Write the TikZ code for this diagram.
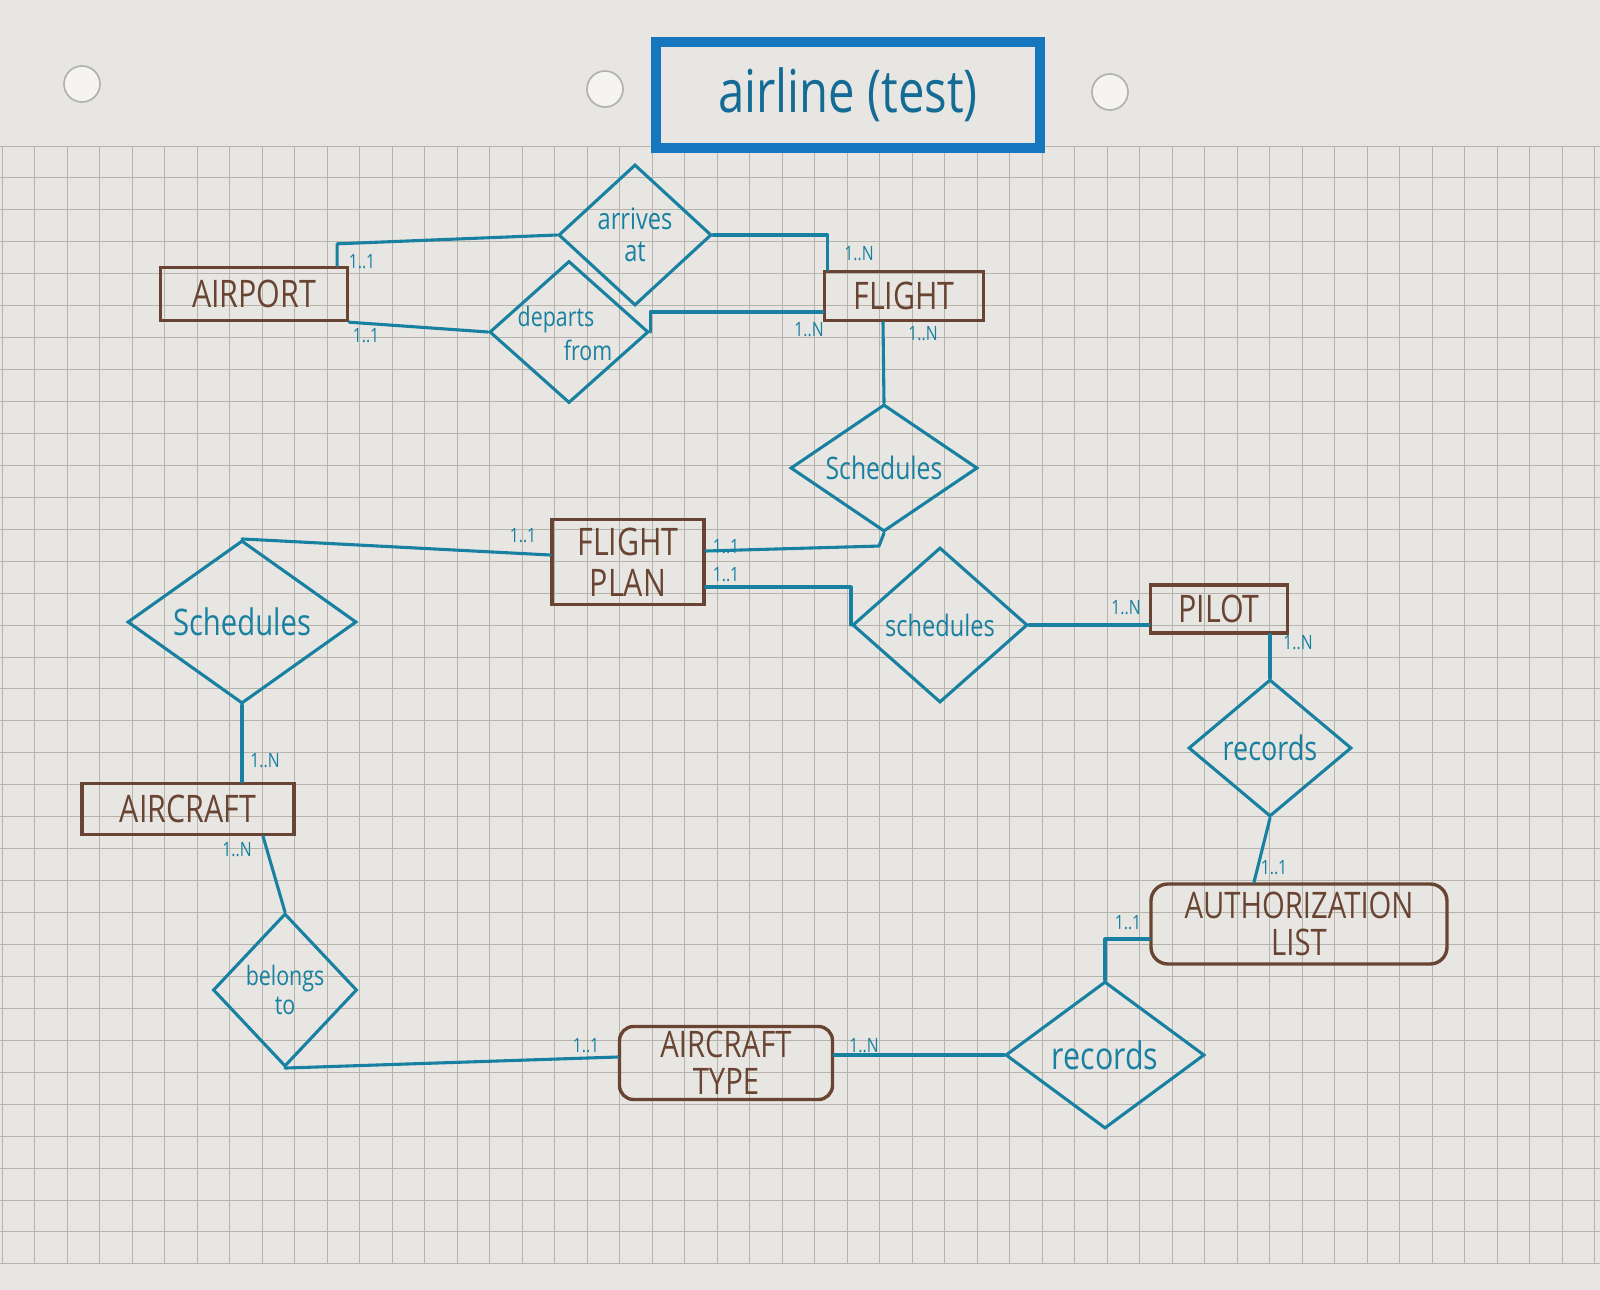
\documentclass[tikz,border=0pt]{standalone}
\usepackage{fontspec}
\setmainfont{Open Sans}
\newfontfamily\hand[FakeStretch=0.8]{Open Sans}
\usetikzlibrary{shapes.geometric,calc}
\definecolor{paper}{RGB}{232,230,226}
\definecolor{gridc}{RGB}{182,179,173}
\definecolor{ink}{RGB}{24,128,160}
\definecolor{brn}{RGB}{105,68,50}
\definecolor{ttl}{RGB}{22,118,190}
\definecolor{ttltxt}{RGB}{20,108,150}
\begin{document}
\begin{tikzpicture}[x=0.025cm,y=-0.025cm,
  entity/.style={draw=brn, line width=2.4pt, rectangle, inner sep=0pt, text=brn,
    font=\hand\fontsize{27}{29}\selectfont, align=center},
  rel/.style={draw=ink, line width=2.2pt, diamond, inner sep=0pt},
  reltxt/.style={text=ink, font=\hand\fontsize{21}{23}\selectfont, align=center, inner sep=0pt},
  conn/.style={draw=ink, line width=2.2pt, line join=round, line cap=round},
  card/.style={text=ink, font=\hand\fontsize{14}{14}\selectfont, inner sep=0pt},
  hole/.style={fill=white!55!paper, draw=gray!60, line width=1.2pt}]
\useasboundingbox (0,0) rectangle (1600,1290);
\fill[paper] (0,0) rectangle (1600,1290);
% graph paper
\foreach \i in {0,...,49} \draw[gridc, line width=0.7pt] (2+32.5*\i,146) -- (2+32.5*\i,1264);
\foreach \j in {0,...,35} \draw[gridc, line width=0.7pt] (0,146+31.94*\j) -- (1600,146+31.94*\j);
% punch holes
\node[hole, circle, minimum size=36*0.025cm] (h1) at (82,84) {};
\node[hole, circle, minimum size=36*0.025cm] (h2) at (605,89) {};
\node[hole, circle, minimum size=36*0.025cm] (h3) at (1110,92) {};
% title
\node[draw=ttl, line width=7pt, minimum width=9.6cm, minimum height=2.65cm, text=ttltxt,
  font=\hand\fontsize{42}{42}\selectfont] (title) at (848,95) {airline (test)};
% entities
\node[entity, minimum width=187*0.025cm, minimum height=53*0.025cm] (airport) at (254,294) {AIRPORT};
\node[entity, minimum width=159*0.025cm, minimum height=49*0.025cm] (flight) at (904,296) {FLIGHT};
\node[entity, minimum width=152*0.025cm, minimum height=85*0.025cm] (fplan) at (628,562) {FLIGHT\\PLAN};
\node[entity, minimum width=137*0.025cm, minimum height=48*0.025cm] (pilot) at (1219,609) {PILOT};
\node[entity, minimum width=212*0.025cm, minimum height=51*0.025cm] (aircraft) at (188,809) {AIRCRAFT};
\node[entity, rounded corners=10pt, minimum width=213*0.025cm, minimum height=73*0.025cm,
  font=\hand\fontsize{26}{26}\selectfont] (actype) at (726,1063) {AIRCRAFT\\TYPE};
\node[entity, rounded corners=12pt, minimum width=296*0.025cm, minimum height=80*0.025cm,
  font=\hand\fontsize{26}{26}\selectfont] (auth) at (1299,924) {AUTHORIZATION\\LIST};
% relationships
\node[rel, minimum width=153*0.025cm, minimum height=141*0.025cm] (arr) at (635,235) {};
\node[reltxt] (arrt) at (arr) {arrives\\at};
\node[rel, minimum width=159*0.025cm, minimum height=142*0.025cm] (dep) at (569,332) {};
\node[reltxt, font=\hand\fontsize{19}{19}\selectfont] (dept1) at (556,320) {departs};
\node[reltxt, font=\hand\fontsize{19}{19}\selectfont] (dept2) at (588,350) {from};
\node[rel, minimum width=187*0.025cm, minimum height=127*0.025cm] (schT) at (884,468) {};
\node[reltxt, font=\hand\fontsize{22}{22}\selectfont] (schTt) at (schT) {Schedules};
\node[rel, minimum width=229*0.025cm, minimum height=163*0.025cm] (schL) at (242,622) {};
\node[reltxt, font=\hand\fontsize{26}{26}\selectfont] (schLt) at (schL) {Schedules};
\node[rel, minimum width=175*0.025cm, minimum height=155*0.025cm] (schM) at (940,625) {};
\node[reltxt, font=\hand\fontsize{21}{21}\selectfont] (schMt) at (schM) {schedules};
\node[rel, minimum width=163*0.025cm, minimum height=137*0.025cm] (recU) at (1270,748) {};
\node[reltxt, font=\hand\fontsize{24}{24}\selectfont] (recUt) at (recU) {records};
\node[rel, minimum width=144*0.025cm, minimum height=153*0.025cm] (bel) at (285,990) {};
\node[reltxt, font=\hand\fontsize{19}{21}\selectfont] (belt) at (bel) {belongs\\to};
\node[rel, minimum width=199*0.025cm, minimum height=147*0.025cm] (recL) at (1105,1055) {};
\node[reltxt, font=\hand\fontsize{27}{27}\selectfont] (recLt) at (recL) {records};
% connectors
\draw[conn] ($(airport.north east)+(-12,0)$) -- ++(0,-22) -- (arr.west);
\draw[conn] (arr.east) -| ($(flight.north west)+(5,0)$);
\draw[conn] (airport.south east) -- (dep.west);
\draw[conn] (dep.east) |- ($(flight.west)+(0,16)$);
\draw[conn] ($(flight.south)+(-21,0)$) -- (schT.north);
\draw[conn] (schT.south) -- ++(-5,13) -- ($(fplan.east)+(0,-11)$);
\draw[conn] ($(fplan.east)+(0,25)$) -| (schM.west);
\draw[conn] (schM.east) -- (schM.east -| pilot.west);
\draw[conn] (recU.north |- pilot.south) -- (recU.north);
\draw[conn] (recU.south) -- ($(auth.north)+(-45,0)$);
\draw[conn] ($(auth.west)+(0,15)$) -| (recL.north);
\draw[conn] (recL.west) -- (recL.west -| actype.east);
\draw[conn] ($(actype.west)+(0,-6)$) -- (bel.south);
\draw[conn] (bel.north) -- ($(aircraft.south)+(75,0)$);
\draw[conn] (schL.south) -- (schL.south |- aircraft.north);
\draw[conn] (schL.north) -- ($(fplan.west)+(0,-7)$);
% cardinalities
\node[card] (k1) at (362,262) {1..1};
\node[card] (k2) at (859,254) {1..N};
\node[card] (k3) at (366,336) {1..1};
\node[card] (k4) at (809,330) {1..N};
\node[card] (k5) at (923,334) {1..N};
\node[card] (k6) at (726,547) {1..1};
\node[card] (k7) at (726,575) {1..1};
\node[card] (k8) at (1126,608) {1..N};
\node[card] (k9) at (1298,643) {1..N};
\node[card] (k10) at (1274,868) {1..1};
\node[card] (k11) at (1128,923) {1..1};
\node[card] (k12) at (864,1046) {1..N};
\node[card] (k13) at (586,1046) {1..1};
\node[card] (k14) at (237,850) {1..N};
\node[card] (k15) at (265,761) {1..N};
\node[card] (k16) at (523,536) {1..1};
\end{tikzpicture}
\end{document}
